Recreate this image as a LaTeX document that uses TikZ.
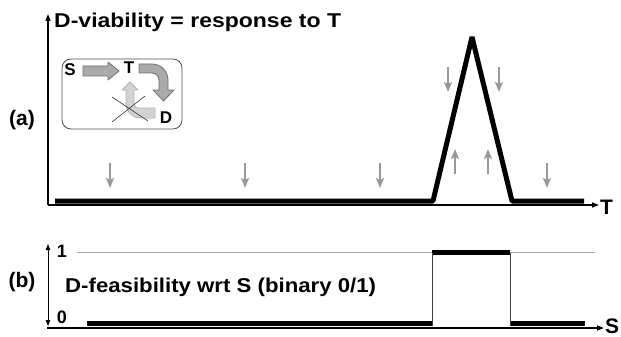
\documentclass[tikz,border=0pt]{standalone}
\usepackage{fontspec}
\setmainfont{Liberation Sans}
\usetikzlibrary{arrows.meta}
\definecolor{garrow}{HTML}{999999}
\definecolor{blockfill}{HTML}{AAAAAA}
\definecolor{blockline}{HTML}{6E6E6E}
\definecolor{lightfill}{HTML}{D2D2D2}
\definecolor{lightline}{HTML}{B4B4B4}
\definecolor{guide}{HTML}{A0A0A0}
\newcommand{\bigtxt}[2]{\scalebox{#1}[1]{\fontsize{20}{24}\selectfont\bfseries #2}}
\tikzset{
  axisline/.style={line width=1.4pt, -{Triangle[length=7pt,width=5pt]}},
  curveline/.style={line width=5pt, line join=bevel},
  stepline/.style={line width=4.5pt},
  thinv/.style={line width=0.9pt},
  garr/.style={draw=garrow, line width=2pt, -{Stealth[length=10pt,width=8pt,inset=2pt]}},
  lbl/.style={inner sep=0pt, font=\fontsize{21}{24}\selectfont\bfseries},
  numlbl/.style={inner sep=0pt, font=\fontsize{18}{21}\selectfont\bfseries},
  insetlbl/.style={inner sep=0pt, font=\fontsize{17}{20}\selectfont\bfseries},
  blockarr/.style={fill=blockfill, draw=blockline, line width=0.8pt, line join=round},
  lightarr/.style={fill=lightfill, draw=lightline, line width=0.8pt, line join=round},
}
\begin{document}
\begin{tikzpicture}[x=1pt,y=-1pt]
\useasboundingbox (0,0) rectangle (621,337);

% ---------- panel (a) ----------
\coordinate (aO) at (48,205);
\coordinate (aY) at (48,14);
\coordinate (aX) at (599,205);
\draw[axisline] (aO) -- (aY);
\draw[axisline] (aO) -- (aX);
\node[lbl, anchor=west] (tlab) at (600,207) {T};
\node[inner sep=0pt, anchor=base west] (title) at (54,27.5) {\bigtxt{1.15}{D-viability = response to T}};
\node[lbl] (alab) at (22,120) {(a)};

\coordinate (c1) at (55,201);
\coordinate (c2) at (433,201);
\coordinate (c3) at (472,37);
\coordinate (c4) at (512,201);
\coordinate (c5) at (584,201);
\draw[curveline] (c1) -- (c2) -- (c3) -- (c4) -- (c5);

% gray arrows
\foreach \xx in {110,245,380,547}{
  \coordinate (ds\xx) at (\xx,163);
  \coordinate (de\xx) at (\xx,188);
  \draw[garr] (ds\xx) -- (de\xx);
}
\foreach \xx in {448,499}{
  \coordinate (ps\xx) at (\xx,67);
  \coordinate (pe\xx) at (\xx,92);
  \draw[garr] (ps\xx) -- (pe\xx);
}
\foreach \xx in {455,488}{
  \coordinate (us\xx) at (\xx,174);
  \coordinate (ue\xx) at (\xx,149);
  \draw[garr] (us\xx) -- (ue\xx);
}

% inset
\node[draw=black!70, line width=0.8pt, rounded corners=9pt, minimum width=120pt, minimum height=70pt, inner sep=0pt] (inset) at (122,94) {};
\node[insetlbl] (S) at (70,70) {S};
\node[insetlbl] (T) at (129,68) {T};
\node[insetlbl] (D) at (166,118) {D};

% light D->T arrow
\path[lightarr] (122,90) -- (130,82) -- (138,90) -- (134,90) -- (134,104)
  .. controls (134,106.2) and (135.8,108) .. (138,108) -- (155,108) -- (155,118) -- (140,118)
  .. controls (132.3,118) and (126,111.7) .. (126,104) -- (126,90) -- cycle;
% cross
\coordinate (x1) at (112,97);
\coordinate (x2) at (148,121);
\coordinate (x3) at (112,122);
\coordinate (x4) at (145,96);
\draw[line width=0.6pt, black!80] (x1) -- (x2);
\draw[line width=0.6pt, black!80] (x3) -- (x4);

% S->T block arrow
\path[blockarr] (83,66) -- (108,66) -- (108,62) -- (119,71) -- (108,80) -- (108,76) -- (83,76) -- cycle;
% T->D curved block arrow
\path[blockarr] (139,64) -- (152,64) .. controls (160.8,64) and (168,71.2) .. (168,80)
  -- (168,90) -- (174,90) -- (163.5,101) -- (153,90) -- (159,90) -- (159,80)
  .. controls (159,76.1) and (155.9,73) .. (152,73) -- (139,73) -- cycle;

% ---------- panel (b) ----------
\coordinate (bTop) at (48,244);
\coordinate (bBot) at (48,326);
\draw[line width=0.9pt, {Triangle[length=6pt,width=4.5pt]}-{Triangle[length=6pt,width=4.5pt]}] (bTop) -- (bBot);
\coordinate (bO) at (47,328);
\coordinate (bX) at (604,328);
\draw[axisline] (bO) -- (bX);
\node[lbl, anchor=west] (slab) at (605,326.5) {S};
\node[numlbl] (one) at (62,251) {1};
\node[numlbl] (zero) at (62,317) {0};
\node[lbl] (blab) at (22,282) {(b)};
\node[inner sep=0pt, anchor=base west] (feas) at (65,292.5) {\bigtxt{1.11}{D-feasibility wrt S (binary 0/1)}};

\coordinate (g1) at (77,252);
\coordinate (g2) at (595,252);
\draw[guide, line width=1pt] (g1) -- (g2);

\coordinate (s1) at (87,323.5);
\coordinate (s2) at (432,323.5);
\coordinate (s3) at (432,252.5);
\coordinate (s4) at (510,252.5);
\coordinate (s5) at (510,323.5);
\coordinate (s6) at (585,323.5);
\coordinate (v1) at (432,326);
\coordinate (v2) at (510,326);
\draw[stepline] (s1) -- (s2);
\draw[stepline] (s3) -- (s4);
\draw[stepline] (s5) -- (s6);
\draw[thinv, black!75] (s3) -- (v1);
\draw[thinv, black!75] (s4) -- (v2);
\end{tikzpicture}
\end{document}
